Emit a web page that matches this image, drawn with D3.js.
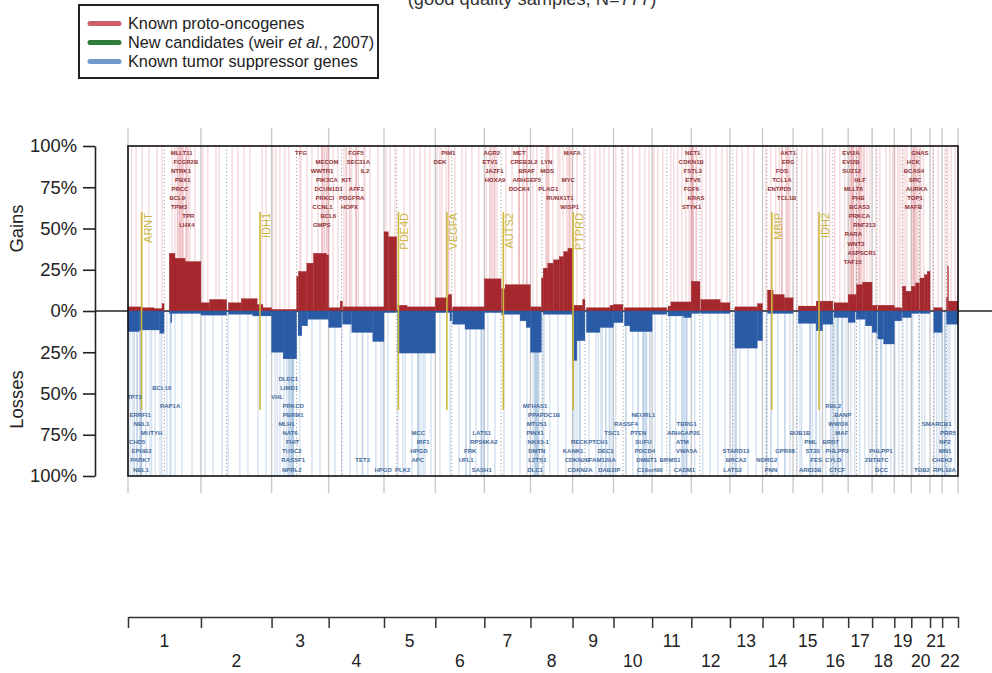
<!DOCTYPE html>
<html>
<head>
<meta charset="utf-8">
<script src="https://d3js.org/d3.v7.min.js"></script>
<style>
  body { margin: 0; background: #fff; }
  svg text { font-family: "Liberation Sans", Arial, Helvetica, sans-serif; }
</style>
</head>
<body>
<div id="chart"></div>
<script>

// chromosome sizes and centromeres (Mb)
var chromNames = ["1","2","3","4","5","6","7","8","9","10","11","12","13","14","15","16","17","18","19","20","21","22"];
var chromLength = [253,245,198,192,178,170,160,146,142,134,136,134,113,106,102,89,83,77,59,65,42,55];
var centromere = [126,89,87,45,44,57,58,40,43,33,51,30,10,15,13,36,29,17,27,28,12,15];

// % of samples with a gain: [chr, start Mb, end Mb, %]
var gainSegments = [
  [1,0,50,2.5],[1,50,90,2],[1,90,118,1.5],[1,118,125,4.5],[1,143,163,35],[1,163,198,32],[1,198,253,30],
  [2,0,30,5],[2,30,89,7],[2,95,140,5],[2,140,195,7.5],[2,195,215,4],[2,215,245,2],
  [3,0,87,1],[3,87,93,21],[3,93,122,24],[3,122,145,29],[3,145,190,35],[3,190,198,34],
  [4,0,40,2],[4,40,48,6],[4,50,192,2.5],
  [5,0,15,48],[5,15,44,45],[5,48,80,3.5],[5,80,178,2.5],
  [6,0,45,8],[6,45,57,10],[6,60,170,2.5],
  [7,0,58,19.5],[7,60,72,13.5],[7,72,160,16],
  [8,0,38,2.5],[8,38,44,20],[8,44,60,26],[8,60,80,29],[8,80,100,31],[8,100,115,33],[8,115,130,36],[8,130,146,38],
  [9,0,35,3.5],[9,35,43,7],[9,48,130,2],[9,130,142,3.5],
  [10,0,33,4],[10,38,134,2],
  [11,0,51,2],[11,55,65,3],[11,65,136,5.5],
  [12,0,30,18],[12,33,100,7],[12,100,134,5],
  [13,17,95,2.5],[13,95,113,4.5],
  [14,17,37,12.7],[14,37,75,10],[14,75,106,8],
  [15,18,80,3],[15,80,102,6],
  [16,0,36,6],[16,40,89,5],
  [17,0,29,10],[17,29,50,16],[17,50,83,17.5],
  [18,0,17,3.5],[18,20,77,3.5],
  [19,0,26,2],[19,28,40,15],[19,40,59,12],
  [20,0,15,15],[20,15,28,17],[20,30,45,20],[20,45,55,22],[20,55,65,24],
  [21,13,42,2],
  [22,15,19,8],[22,19,22,27],[22,22,55,6]
];

// % of samples with a loss: [chr, start Mb, end Mb, %]
var lossSegments = [
  [1,0,40,12.5],[1,40,110,11.5],[1,110,125,13.5],[1,143,148,1.5],[1,148,152,7],[1,152,253,1.5],
  [2,0,89,2.5],[2,95,180,2],[2,180,245,3],
  [3,0,40,25],[3,40,87,29],[3,92,105,15],[3,105,125,9],[3,125,198,5],
  [4,0,45,10],[4,48,80,8],[4,80,153,13],[4,153,192,18.5],
  [5,0,44,1],[5,48,178,25.5],
  [6,0,51,1],[6,51,57,6],[6,60,103,8],[6,103,170,11],
  [7,0,58,1],[7,60,124,2],[7,124,145,6],[7,145,160,10],
  [8,0,38,25],[8,44,146,2],
  [9,0,15,30],[9,15,43,18],[9,48,95,13],[9,95,142,10],
  [10,0,33,7],[10,38,57,9],[10,57,134,12.5],
  [11,0,51,2],[11,55,110,3],[11,110,136,4],
  [12,0,30,1.5],[12,33,134,1.5],
  [13,17,95,22.5],[13,95,113,18],
  [14,17,106,1.5],
  [15,18,80,7.5],[15,80,102,12],
  [16,0,36,8],[16,40,89,4],
  [17,0,24,7],[17,28,60,5],[17,60,83,9],
  [18,0,17,13],[18,20,40,17],[18,40,77,20],
  [19,0,26,6],[19,28,59,4],
  [20,0,28,1.5],[20,30,65,1.5],
  [21,13,42,13],
  [22,15,55,8]
];

// labelled proto-oncogenes, grouped as stacked in the figure: [name, chr, Mb]
var gainClusters = [
  [["MLLT11",1,186],["FCGR2B",1,201],["NTRK1",1,184],["PBX1",1,190],["PRCC",1,180],["BCL9",1,171],["TPM3",1,177],["TPR",1,209],["LHX4",1,204]],
  [["TFG",3,102],["MECOM",3,192],["WWTR1",3,175],["PIK3CA",3,192],["DCUN1D1",3,198],["PRKCI",3,185],["CCNL1",3,177],["BCL6",3,197],["GMPS",3,174]],
  [["FGF5",4,95],["SEC31A",4,103],["IL2",4,126],["KIT",4,62],["AFF1",4,96],["PDGFRA",4,80],["HOPX",4,72]],
  [["PIM1",6,45],["DEK",6,16]],
  [["AGR2",7,26],["ETV1",7,20],["JAZF1",7,35],["HOXA9",7,37]],
  [["MET",7,121],["CREB3L2",7,137],["BRAF",7,147],["ARHGEF5",7,147],["DOCK4",7,121]],
  [["MAFA",8,145],["LYN",8,56],["MOS",8,58],["MYC",8,131],["PLAG1",8,62],["RUNX1T1",8,102],["WISP1",8,136]],
  [["NET1",12,5],["CDKN1B",12,0],["FSTL3",12,5],["ETV6",12,5],["FGF6",12,0],["KRAS",12,16],["STYK1",12,1]],
  [["AKT1",14,89],["ERG",14,89],["FOS",14,67],["TCL1A",14,67],["ENTPD5",14,58],["TCL1B",14,84]],
  [["EVI2A",17,10],["EVI2B",17,10],["SUZ12",17,12],["HLF",17,41],["MLLT6",17,18],["PHB",17,35],["BCAS3",17,39],
   ["PRKCA",17,39],["RNF213",17,56],["RARA",17,18],["WNT3",17,27],["ASPSCR1",17,47],["TAF15",17,16]],
  [["GNAS",20,30],["HCK",20,7],["BCAS4",20,9],["SRC",20,13],["AURKA",20,19],["TOP1",20,13],["MAFB",20,7]]
];

// labelled tumour suppressors, stacked from the bottom: [name, chr, Mb]
var lossClusters = [
  [["NBL1",1,45],["PARK7",1,42],["EPHB2",1,47],["CHD5",1,32],["MUTYH",1,82],["NBL1",1,47],["ERRFI1",1,42],["RAP1A",1,146],["TP73",1,22],["BCL10",1,117]],
  [["NPRL2",3,70],["RASSF1",3,75],["TUSC2",3,70],["FHIT",3,73],["NAT6",3,64],["MLH1",3,52],["PBRM1",3,75],["PRKCD",3,75],["VHL",3,20],["LIMD1",3,61],["DLEC1",3,58]],
  [["HPGD",4,189],["TET2",4,118]],
  [["PLK2",5,65],["APC",5,117],["HPGD",5,121],["IRF1",5,136],["MCC",5,119]],
  [["SASH1",6,161],["UFL1",6,107],["FRK",6,121],["RPS6KA2",6,168],["LATS1",6,161]],
  [["DLC1",8,16],["LZTS1",8,24],["DMTN",8,22],["NKX3-1",8,27],["PINX1",8,16],["MTUS1",8,22],["PPAPDC1B",8,47],["MFHAS1",8,16]],
  [["CDKN2A",9,26],["CDKN2B",9,16],["KANK1",9,2],["RECK",9,24]],
  [["DAB2IP",9,127],["FAM120A",9,103],["DEC1",9,115],["PTCH1",9,89],["TSC1",9,137]],
  [["C10orf90",10,126],["DMBT1",10,115],["PDCD4",10,109],["SUFU",10,104],["PTEN",10,86],["RASSF4",10,43],["NEURL1",10,104]],
  [["CADM1",11,112],["BRMS1",11,62],["VWA5A",11,120],["ATM",11,105],["ARHGAP20",11,108],["TBRG1",11,120]],
  [["LATS2",13,9],["BRCA2",13,21],["STARD13",13,21]],
  [["PNN",14,29],["NDRG2",14,15],["GPR68",14,78]],
  [["ARID3B",15,59],["FES",15,80],["ST20",15,68],["PML",15,61],["BUB1B",15,24]],
  [["CTCF",16,51],["CYLD",16,37],["PHLPP2",16,51],["BRD7",16,28],["MAF",16,67],["WWOX",16,55],["BANP",16,70],["RBL2",16,37]],
  [["DCC",18,33],["ZBTB7C",18,16],["PHLPP1",18,31]],
  [["TOB2",20,37]],
  [["RPL10A",22,8],["CHEK2",22,0],["MN1",22,10],["NF2",22,10],["PRR5",22,20],["SMARCB1",21,23]]
];

// new candidates (Weir et al., 2007): [name, chr, Mb]
var candidates = [["ARNT",1,47],["IDH1",2,205],["PDE4D",5,50],["VEGFA",6,40],["AUTS2",7,66],["PTPRD",9,2],["MBIP",14,32],["IDH2",15,90]];

// further unlabelled gene positions (cumulative genome Mb)
var otherOncogenePos = [13,28,49,73,101,118,153,163,173,180,191,201,215,232,
  260,277,305,316,361,381,402,423,465,479,503,513,527,544,558,596,621,638,659,680,
  711,728,749,756,770,791,818,839,867,895,909,926,957,978,992,1013,1030,1047,
  1072,1089,1103,1113,1134,1158,1172,1193,1217,1242,1255,1266,1280,1311,1332,1356,1370,1384,
  1405,1418,1450,1460,1474,1491,1509,1522,1533,1557,1581,1602,1620,1637,1651,1668,
  1692,1713,1734,1751,1775,1793,1807,1824,1838,1855,1883,1893,1907,1921,1935,1946,
  1960,1973,1991,2005,2019,2039,2060,2078,2112,2130,2150,2171,2213,2230,2247,2268,2282,2296,
  2320,2337,2355,2372,2393,2420,2434,2452,2469,2486,2503,2510,2517,2528,2535,2542,2552,2563,2573,
  2594,2608,2629,2643,2653,2660,2670,2677,2688,2695,2702,2719,2729,2740,2750,2760,2792,2810,2834,2844,2855,2869];
var otherSuppressorPos = [7,17,31,45,62,76,94,111,135,149,163,187,222,
  267,295,326,347,388,416,451,479,510,527,541,562,572,596,638,666,
  718,742,770,794,812,832,860,877,902,936,961,985,1006,1016,1030,1051,
  1082,1117,1148,1172,1186,1207,1224,1248,1273,1304,1332,1360,1384,
  1405,1415,1425,1439,1463,1491,1519,1550,1568,1599,1623,1640,1658,1672,
  1692,1727,1751,1769,1786,1796,1810,1828,1852,1879,1900,1921,1935,
  1966,1994,2019,2046,2071,2105,2122,2150,2178,2213,2230,2254,2278,2296,
  2320,2337,2365,2386,2400,2420,2438,2452,2462,2476,2490,2507,2521,2538,2556,2570,
  2594,2611,2629,2646,2660,2674,2688,2702,2722,2743,2764,2796,2813,2834,2851,2869];

var yTicks = [-100,-75,-50,-25,0,25,50,75,100];

var chromOffset = [], acc = 0;
chromLength.forEach(function(l){ chromOffset.push(acc); acc += l; });
var genomeLength = acc;
function gpos(chr, mb) { return chromOffset[chr - 1] + mb; }

var width = 992, height = 673;
var plot = {left: 128, right: 958, top: 146, bottom: 476, zero: 311};
var red = "#a4282d", blue = "#2a5ba6", olive = "#cbb73e";

var svg = d3.select("#chart").append("svg")
    .attr("width", width)
    .attr("height", height);

var x = d3.scaleLinear().domain([0, genomeLength]).range([plot.left, plot.right]);
var yGain = d3.scaleLinear().domain([0, 100]).range([plot.zero, plot.top]);
var yLoss = d3.scaleLinear().domain([0, 100]).range([plot.zero, plot.bottom]);
var yAxisScale = d3.scaleLinear().domain([-100, 100]).range([plot.bottom, plot.top]);

// title (cut off at the top in the figure)
svg.append("text")
    .attr("x", 532).attr("y", 4.5)
    .attr("text-anchor", "middle")
    .style("font-size", "18.3px").style("fill", "#333")
    .text("(good quality samples, N=777)");

// legend
var legendItems = [
  {label: "Known proto-oncogenes", color: "#cc5f68"},
  {label: "New candidates", color: "#2e7d3c"},
  {label: "Known tumor suppressor genes", color: "#6f9acb"}
];
svg.append("rect")
    .attr("x", 79).attr("y", 5).attr("width", 299).attr("height", 73)
    .attr("fill", "white").attr("stroke", "#222").attr("stroke-width", 2);
var leg = svg.selectAll(".leg").data(legendItems).enter().append("g")
    .attr("transform", function(d, i){ return "translate(0," + (23.5 + i * 19) + ")"; });
leg.append("line")
    .attr("x1", 90).attr("x2", 119)
    .attr("stroke", function(d){ return d.color; })
    .attr("stroke-width", 5).attr("stroke-linecap", "round");
var legText = leg.append("text")
    .attr("x", 128).attr("y", 5.8)
    .style("font-size", "16.3px").style("fill", "#222");
legText.filter(function(d, i){ return i !== 1; }).text(function(d){ return d.label; });
legText.filter(function(d, i){ return i === 1; }).each(function(d){
  var t = d3.select(this);
  t.append("tspan").text(d.label + " (weir ");
  t.append("tspan").style("font-style", "italic").text("et al.");
  t.append("tspan").text(", 2007)");
});

// chromosome boundary lines
var boundaries = chromOffset.concat([genomeLength]);
svg.append("g").selectAll("line").data(boundaries).enter().append("line")
    .attr("x1", function(d){ return x(d); }).attr("x2", function(d){ return x(d); })
    .attr("y1", 128).attr("y2", 493)
    .attr("stroke", "#c9c9c9").attr("stroke-width", 1.4);

// gene marks
var gainGenes = [], lossGenes = [];
gainClusters.forEach(function(c){ c.forEach(function(g, i){ gainGenes.push({name: g[0], pos: gpos(g[1], g[2]), row: i}); }); });
lossClusters.forEach(function(c){ c.forEach(function(g, i){ lossGenes.push({name: g[0], pos: gpos(g[1], g[2]), row: i}); }); });

var oncoPos = otherOncogenePos.concat(gainGenes.map(function(d){ return d.pos; }));
var supPos = otherSuppressorPos.concat(lossGenes.map(function(d){ return d.pos; }));

svg.append("g").selectAll("line").data(oncoPos).enter().append("line")
    .attr("x1", function(d){ return x(d); }).attr("x2", function(d){ return x(d); })
    .attr("y1", plot.top).attr("y2", plot.zero)
    .attr("stroke", "#e7a3aa").attr("stroke-opacity", 0.45).attr("stroke-width", 1.3);
svg.append("g").selectAll("line").data(supPos).enter().append("line")
    .attr("x1", function(d){ return x(d); }).attr("x2", function(d){ return x(d); })
    .attr("y1", plot.zero).attr("y2", plot.bottom)
    .attr("stroke", "#a6c2e0").attr("stroke-opacity", 0.5).attr("stroke-width", 1.3);

// centromeres
svg.append("g").selectAll("line").data(centromere).enter().append("line")
    .attr("x1", function(d, i){ return x(gpos(i + 1, d)); }).attr("x2", function(d, i){ return x(gpos(i + 1, d)); })
    .attr("y1", plot.top).attr("y2", plot.bottom)
    .attr("stroke", "#8a8a8a").attr("stroke-width", 1).attr("stroke-dasharray", "1,2.6");

// zero line
svg.append("line")
    .attr("x1", 95).attr("x2", 992).attr("y1", plot.zero).attr("y2", plot.zero)
    .attr("stroke", "#222").attr("stroke-width", 1.3);

// gains / losses
svg.append("g").selectAll("rect").data(gainSegments).enter().append("rect")
    .attr("x", function(d){ return x(gpos(d[0], d[1])); })
    .attr("width", function(d){ return x(gpos(d[0], d[2])) - x(gpos(d[0], d[1])); })
    .attr("y", function(d){ return yGain(d[3]); })
    .attr("height", function(d){ return plot.zero - yGain(d[3]); })
    .attr("fill", red).attr("stroke", red).attr("stroke-width", 0.3);
svg.append("g").selectAll("rect").data(lossSegments).enter().append("rect")
    .attr("x", function(d){ return x(gpos(d[0], d[1])); })
    .attr("width", function(d){ return x(gpos(d[0], d[2])) - x(gpos(d[0], d[1])); })
    .attr("y", plot.zero)
    .attr("height", function(d){ return yLoss(d[3]) - plot.zero; })
    .attr("fill", blue).attr("stroke", blue).attr("stroke-width", 0.3);

// new candidates
var cand = svg.append("g").selectAll("g").data(candidates).enter().append("g");
cand.append("line")
    .attr("x1", function(d){ return x(gpos(d[1], d[2])); }).attr("x2", function(d){ return x(gpos(d[1], d[2])); })
    .attr("y1", yGain(60)).attr("y2", yLoss(60))
    .attr("stroke", olive).attr("stroke-width", 1.6);
cand.append("text")
    .attr("transform", function(d){ return "translate(" + (x(gpos(d[1], d[2])) + 10) + "," + (yGain(60) + 1) + ") rotate(-90)"; })
    .attr("text-anchor", "end")
    .style("font-size", "11px").style("fill", olive)
    .text(function(d){ return d[0]; });

// gene labels
var rowStep = 9.05;
svg.append("g").selectAll("text").data(gainGenes).enter().append("text")
    .attr("x", function(d){ return x(d.pos); })
    .attr("y", function(d){ return 155 + d.row * rowStep; })
    .attr("text-anchor", "middle")
    .style("font-size", "6px").style("font-weight", "bold").style("fill", "#8e2f35")
    .text(function(d){ return d.name; });
svg.append("g").selectAll("text").data(lossGenes).enter().append("text")
    .attr("x", function(d){ return x(d.pos); })
    .attr("y", function(d){ return 471.5 - d.row * rowStep; })
    .attr("text-anchor", "middle")
    .style("font-size", "6px").style("font-weight", "bold").style("fill", "#44699b")
    .text(function(d){ return d.name; });

// frame
svg.append("rect")
    .attr("x", plot.left).attr("y", plot.top)
    .attr("width", plot.right - plot.left).attr("height", plot.bottom - plot.top)
    .attr("fill", "none").attr("stroke", "#111").attr("stroke-width", 1.6);

// y axis
var yAxis = svg.append("g")
    .attr("transform", "translate(95,0)")
    .call(d3.axisLeft(yAxisScale).tickValues(yTicks).tickSize(12).tickSizeOuter(0).tickPadding(6)
      .tickFormat(function(d){ return Math.abs(d) + "%"; }));
yAxis.selectAll("path, line").attr("stroke", "#222").attr("stroke-width", 1.6);
yAxis.selectAll("text").style("font-size", "18.4px").style("fill", "#222")
    .style("font-family", "'Liberation Sans', Arial, sans-serif");

svg.append("text")
    .attr("transform", "translate(23," + yGain(50) + ") rotate(-90)")
    .attr("text-anchor", "middle")
    .style("font-size", "18.4px").style("fill", "#222")
    .text("Gains");
svg.append("text")
    .attr("transform", "translate(23," + (yLoss(50) + 6) + ") rotate(-90)")
    .attr("text-anchor", "middle")
    .style("font-size", "18.4px").style("fill", "#222")
    .text("Losses");

// chromosome axis
var cAxis = svg.append("g")
    .attr("transform", "translate(0,617)")
    .call(d3.axisBottom(x).tickValues(boundaries).tickSize(11).tickSizeOuter(0).tickFormat(""));
cAxis.selectAll("path, line").attr("stroke", "#333").attr("stroke-width", 1.5);

svg.append("g").selectAll("text").data(chromNames).enter().append("text")
    .attr("x", function(d, i){ return x(chromOffset[i] + chromLength[i] / 2); })
    .attr("y", function(d, i){ return i % 2 === 0 ? 647 : 667; })
    .attr("text-anchor", "middle")
    .style("font-size", "17.5px").style("fill", "#222")
    .text(function(d){ return d; });

</script>
</body>
</html>
